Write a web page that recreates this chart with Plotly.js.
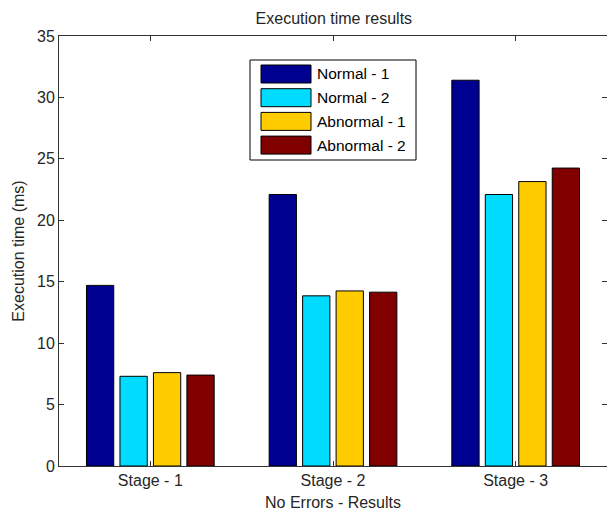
<!DOCTYPE html>
<html>
<head>
<meta charset="utf-8">
<script src="https://cdn.plot.ly/plotly-3.0.1.min.js"></script>
<style>html,body{margin:0;padding:0;background:#fff;}#chart{width:607px;height:512px;}</style>
</head>
<body>
<div id="chart"></div>
<script>
var categories = ["Stage - 1", "Stage - 2", "Stage - 3"];
var seriesNames = ["Normal - 1", "Normal - 2", "Abnormal - 1", "Abnormal - 2"];
var normal1 = [14.7, 22.1, 31.4];
var normal2 = [7.3, 13.85, 22.1];
var abnormal1 = [7.6, 14.25, 23.15];
var abnormal2 = [7.4, 14.15, 24.25];
var colors = ["#000090", "#00DCFF", "#FFCC00", "#800000"];
var yTicks = [0, 5, 10, 15, 20, 25, 30, 35];

var series = [normal1, normal2, abnormal1, abnormal2];
var xPos = categories.map(function (c, i) { return i + 1; });
var font = "Arial, 'Liberation Sans', sans-serif";

var traces = series.map(function (vals, k) {
  return {
    type: "bar",
    name: seriesNames[k],
    x: xPos,
    y: vals,
    marker: { color: colors[k], line: { color: "#000000", width: 1 } },
    showlegend: false,
    hoverinfo: "none"
  };
});

// custom MATLAB-like legend
var W = 548, H = 430, L = 59, T = 36;
function px(x) { return (x - L) / W; }
function py(y) { return (T + H - y) / H; }
var shapes = [{
  type: "rect", xref: "paper", yref: "paper",
  x0: px(250), x1: px(416), y0: py(160), y1: py(60),
  line: { color: "#000000", width: 1 }, fillcolor: "#ffffff", layer: "above"
}];
var annotations = [];
seriesNames.forEach(function (n, k) {
  var top = 65 + k * 23.7;
  shapes.push({
    type: "rect", xref: "paper", yref: "paper",
    x0: px(261), x1: px(311), y0: py(top + 18), y1: py(top),
    line: { color: "#000000", width: 1 }, fillcolor: colors[k], layer: "above"
  });
  annotations.push({
    xref: "paper", yref: "paper", x: px(315), y: py(top + 9),
    xanchor: "left", yanchor: "middle", showarrow: false,
    text: n, font: { family: font, size: 15.5, color: "#000000" }
  });
});

var layout = {
  width: 607, height: 512,
  margin: { l: 59, r: 0, t: 36, b: 46 },
  paper_bgcolor: "#ffffff", plot_bgcolor: "#ffffff",
  font: { family: font, size: 16, color: "#262626" },
  title: { text: "Execution time results", font: { family: font, size: 16, color: "#262626" }, x: 0.55, xanchor: "center", y: 0.965, yanchor: "middle" },
  barmode: "group", bargap: 0.267, bargroupgap: 0.185,
  xaxis: {
    range: [0.5, 3.5], tickmode: "array", tickvals: xPos, ticktext: categories,
    ticks: "inside", ticklen: 5, tickcolor: "#333333", tickwidth: 1,
    showline: true, linecolor: "#333333", linewidth: 1, mirror: "ticks",
    showgrid: false, zeroline: false,
    tickfont: { family: font, size: 16, color: "#262626" },
    title: { text: "No Errors - Results", font: { family: font, size: 16, color: "#262626" }, standoff: 8 }
  },
  yaxis: {
    range: [0, 35], tickmode: "array", tickvals: yTicks,
    ticks: "inside", ticklen: 5, tickcolor: "#333333", tickwidth: 1,
    showline: true, linecolor: "#333333", linewidth: 1, mirror: "ticks",
    showgrid: false, zeroline: false,
    tickfont: { family: font, size: 16, color: "#262626" },
    title: { text: "Execution time (ms)", font: { family: font, size: 16, color: "#262626" }, standoff: 8 }
  },
  shapes: shapes,
  annotations: annotations
};

Plotly.newPlot("chart", traces, layout, { staticPlot: true, displayModeBar: false });
</script>
</body>
</html>
